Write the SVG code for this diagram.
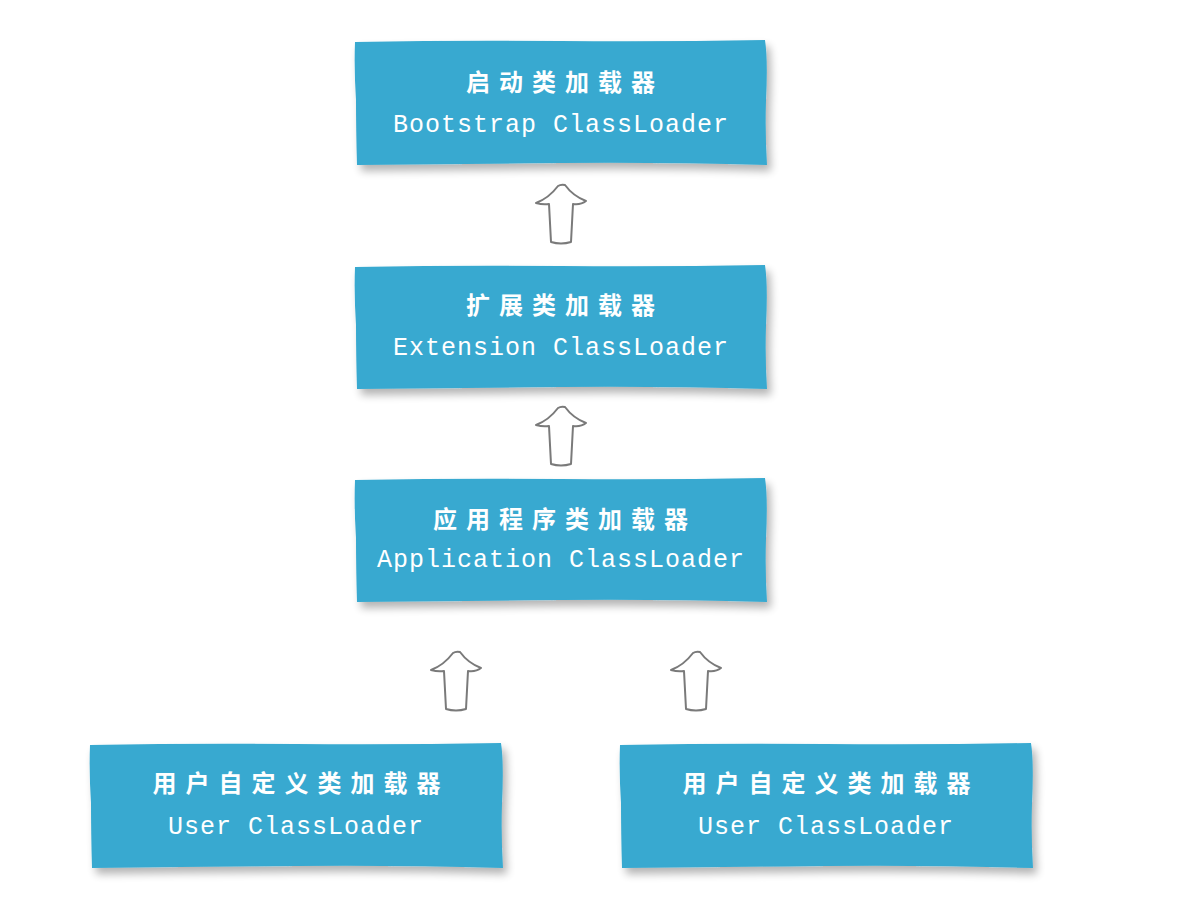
<svg xmlns="http://www.w3.org/2000/svg" width="1192" height="903" viewBox="0 0 1192 903">
<defs>
<filter id="sh" x="-10%" y="-20%" width="125%" height="150%">
<feGaussianBlur in="SourceAlpha" stdDeviation="4"/>
<feOffset dx="4" dy="6" result="b"/>
<feComponentTransfer><feFuncA type="linear" slope="0.3"/></feComponentTransfer>
<feMerge><feMergeNode/><feMergeNode in="SourceGraphic"/></feMerge>
</filter>
<style>
.box{fill:#37a9d0;filter:url(#sh)}
.cn{font-family:"Noto Sans CJK SC","Noto Sans",sans-serif;font-size:24px;fill:#fff;text-anchor:middle;letter-spacing:9px;font-weight:bold}
.en{font-family:"Liberation Mono","DejaVu Sans Mono",monospace;font-size:25px;fill:#fff;text-anchor:middle;letter-spacing:1px}
.arr{fill:#fff;stroke:#7a7a7a;stroke-width:2;stroke-linejoin:round}
</style>
</defs>
<rect width="1192" height="903" fill="#fff"/>
<g id="connectors">
<path class="arr" transform="translate(561,184)" d="M-25,19 Q-12,14 -3,2 Q0,0 4,1 Q12,12 25,17 Q20,21 12,20 L10,58 Q0,61 -10,58 L-12,20 Q-18,21 -25,19 Z"/>
<path class="arr" transform="translate(561,406)" d="M-25,19 Q-12,14 -3,2 Q0,0 4,1 Q12,12 25,17 Q20,21 12,20 L10,58 Q0,61 -10,58 L-12,20 Q-18,21 -25,19 Z"/>
<path class="arr" transform="translate(456,651)" d="M-25,19 Q-12,14 -3,2 Q0,0 4,1 Q12,12 25,17 Q20,21 12,20 L10,58 Q0,61 -10,58 L-12,20 Q-18,21 -25,19 Z"/>
<path class="arr" transform="translate(696,651)" d="M-25,19 Q-12,14 -3,2 Q0,0 4,1 Q12,12 25,17 Q20,21 12,20 L10,58 Q0,61 -10,58 L-12,20 Q-18,21 -25,19 Z"/>
</g>
<g id="bootstrap">
<path class="box" d="M355,42 Q460,40 560,41 Q660,42 765,40 Q768,60 766,100 Q765,135 767,165 Q660,162 560,163 Q460,164 357,165 Q356,130 356,100 Q354,70 355,42 Z"/>
<text class="cn" x="565" y="91">启动类加载器</text>
<text class="en" x="561" y="132">Bootstrap ClassLoader</text>
</g>
<g id="extension">
<path class="box" d="M355,267 Q460,265 560,266 Q660,267 765,265 Q768,285 766,325 Q765,360 767,389 Q660,386 560,387 Q460,388 357,389 Q356,355 356,325 Q354,295 355,267 Z"/>
<text class="cn" x="565" y="314">扩展类加载器</text>
<text class="en" x="561" y="355">Extension ClassLoader</text>
</g>
<g id="application">
<path class="box" d="M355,480 Q460,478 560,479 Q660,480 765,478 Q768,498 766,538 Q765,573 767,602 Q660,599 560,600 Q460,601 357,602 Q356,568 356,538 Q354,508 355,480 Z"/>
<text class="cn" x="565" y="528">应用程序类加载器</text>
<text class="en" x="561" y="567">Application ClassLoader</text>
</g>
<g id="user1">
<path class="box" d="M90,745 Q195,743 295,744 Q395,745 501,743 Q504,763 502,803 Q501,838 503,868 Q395,865 295,866 Q195,867 92,868 Q91,833 91,803 Q89,773 90,745 Z"/>
<text class="cn" x="301" y="792">用户自定义类加载器</text>
<text class="en" x="296" y="834">User ClassLoader</text>
</g>
<g id="user2">
<path class="box" d="M620,745 Q725,743 825,744 Q925,745 1031,743 Q1034,763 1032,803 Q1031,838 1033,868 Q925,865 825,866 Q725,867 622,868 Q621,833 621,803 Q619,773 620,745 Z"/>
<text class="cn" x="831" y="792">用户自定义类加载器</text>
<text class="en" x="826" y="834">User ClassLoader</text>
</g>
</svg>
